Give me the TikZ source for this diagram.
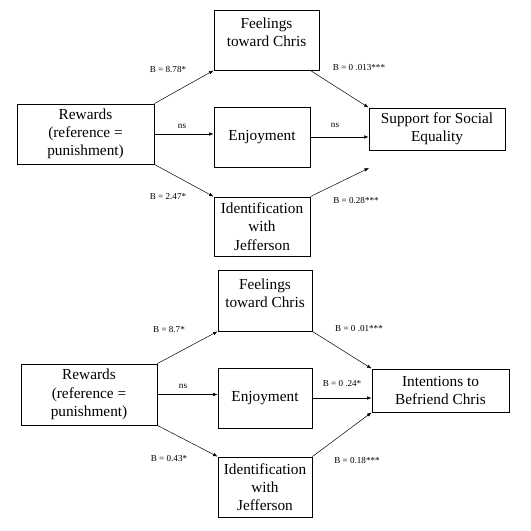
\documentclass[tikz,border=0pt]{standalone}
\usepackage{fontspec}
\setmainfont{Liberation Serif}
\usetikzlibrary{arrows.meta}
\tikzset{
  box/.style={draw,line width=0.9pt,inner sep=0pt,align=center,font=\fontsize{15.3}{18.3}\selectfont},
  lnk/.style={-{Latex[length=4.5pt,width=3.5pt]},line width=0.5pt},
  coef/.style={font=\fontsize{9.1}{11}\selectfont}
}

\begin{document}
\begin{tikzpicture}[x=1pt,y=-1pt]
\useasboundingbox (0,0) rectangle (531,531);
% top model
\node[box,minimum width=137pt,minimum height=60pt] (rw1) at (85.5,134) {Rewards\\(reference =\\punishment)};
\node[box,minimum width=105pt,minimum height=60pt] (fe1) at (266.5,40) {Feelings\\toward Chris\\[-3pt]\mbox{}};
\node[box,minimum width=96pt,minimum height=60pt] (en1) at (262,137) {Enjoyment};
\node[box,minimum width=96pt,minimum height=59pt] (id1) at (262,226.5) {Identification\\with\\Jefferson};
\node[box,minimum width=136pt,minimum height=42pt] (su1) at (437,129) {Support for Social\\Equality};
\coordinate (su1low) at (369,168);
\draw[lnk] (rw1.north east) -- (fe1.south west);
\draw[lnk] (rw1.east) -- (rw1.east -| en1.west);
\draw[lnk] (rw1.south east) -- (id1.north west);
\draw[lnk] ([xshift=-9pt]fe1.south east) -- (su1.north west);
\draw[lnk] (en1.east) -- (en1.east -| su1.west);
\draw[lnk] (id1.north east) -- (su1low);
\node[coef] (b1a) at (168,70) {B = 8.78*};
\node[coef] (b1b) at (182,126) {ns};
\node[coef] (b1c) at (168,197) {B = 2.47*};
\node[coef] (b1d) at (359,68) {B = 0 .013***};
\node[coef] (b1e) at (335,125) {ns};
\node[coef] (b1f) at (356,201) {B = 0.28***};
% bottom model
\node[box,minimum width=136pt,minimum height=61pt] (rw2) at (89,394.5) {Rewards\\(reference =\\punishment)};
\node[box,minimum width=94pt,minimum height=61pt] (fe2) at (265,300.5) {Feelings\\toward Chris\\[-3pt]\mbox{}};
\node[box,minimum width=94pt,minimum height=60pt] (en2) at (265,398) {Enjoyment};
\node[box,minimum width=94pt,minimum height=60pt] (id2) at (265,487) {Identification\\with\\Jefferson};
\node[box,minimum width=137pt,minimum height=43pt] (in2) at (440.5,390.5) {Intentions to\\Befriend Chris};
\draw[lnk] (rw2.north east) -- (fe2.south west);
\draw[lnk] (rw2.east) -- (rw2.east -| en2.west);
\draw[lnk] (rw2.south east) -- (id2.north west);
\draw[lnk] (fe2.south east) -- (in2.north west);
\draw[lnk] (en2.east) -- (en2.east -| in2.west);
\draw[lnk] (id2.north east) -- (in2.south west);
\node[coef] (b2a) at (169,330) {B = 8.7*};
\node[coef] (b2b) at (183,386) {ns};
\node[coef] (b2c) at (169,459) {B = 0.43*};
\node[coef] (b2d) at (359,329) {B = 0 .01***};
\node[coef] (b2e) at (342,384) {B = 0 .24*};
\node[coef] (b2f) at (357,461) {B = 0.18***};
\end{tikzpicture}
\end{document}
